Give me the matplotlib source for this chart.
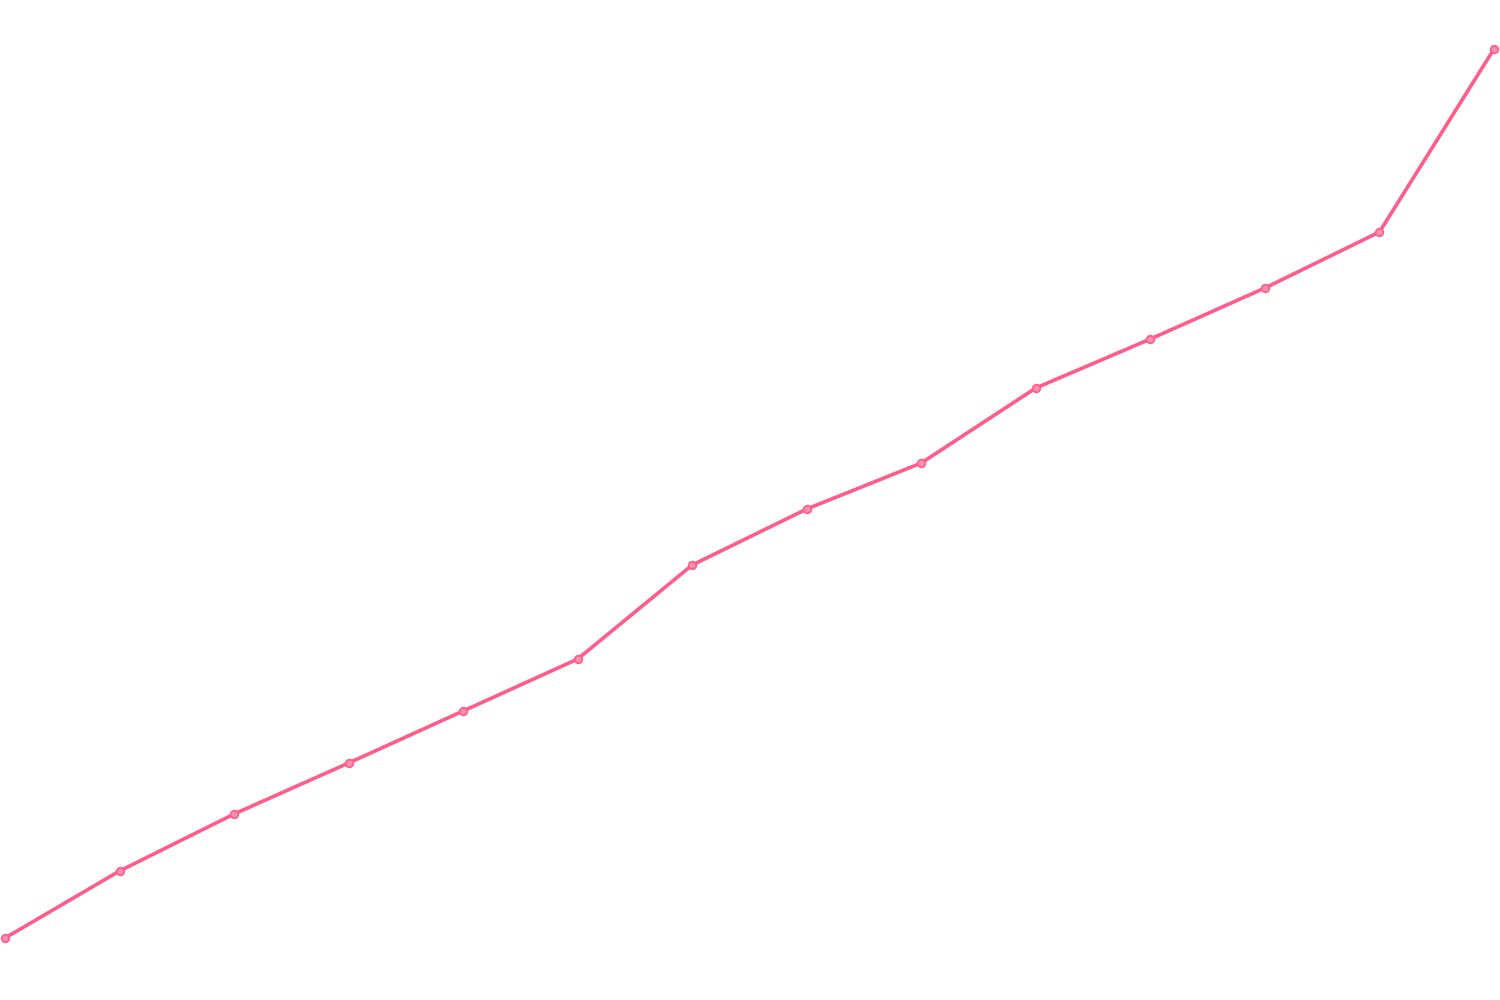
import matplotlib
matplotlib.use("Agg")
import matplotlib.pyplot as plt

categories = list(range(14))
values = [6.2, 12.9, 18.6, 23.7, 28.9, 34.1, 43.5, 49.1, 53.7, 61.2, 66.1, 71.2, 76.8, 95.1]

fig = plt.figure(figsize=(15, 10), dpi=100)
ax = fig.add_axes([0, 0, 1, 1])
ax.plot(categories, values, color="#ff5c8a", linewidth=2.6,
        marker="o", markersize=5.5, markerfacecolor="#ff8fae",
        markeredgecolor="#ff5c8a", markeredgewidth=1.2, solid_capstyle="round")
step = (1494 - 5) / 13
ax.set_xlim(-5 / step, (1500 - 5) / step)
ax.set_ylim(0, 100)
ax.axis("off")
fig.savefig("out.png", dpi=100, facecolor="white")
